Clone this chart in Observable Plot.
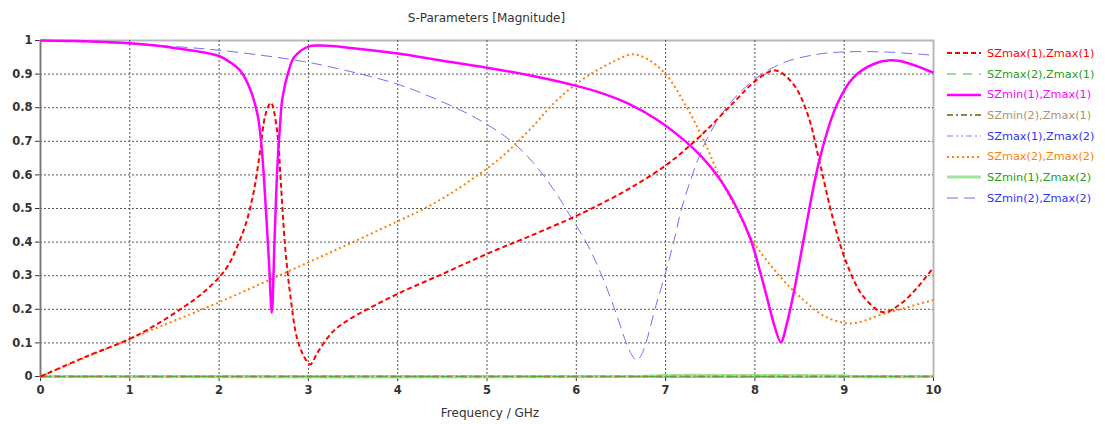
<!DOCTYPE html>
<html>
<head>
<meta charset="utf-8">
<script src="https://cdn.jsdelivr.net/npm/d3@7"></script>
<script src="https://cdn.jsdelivr.net/npm/@observablehq/plot@0.6"></script>
<style>
  html, body { margin: 0; padding: 0; background: #fff; }
  #wrap { position: relative; width: 1105px; height: 424px; font-family: "DejaVu Sans", sans-serif; }
  #title { position: absolute; left: 0; top: 0; width: 973px; height: 30px; line-height: 36px; text-align: center; font-size: 12px; color: #333; }
  #chart { position: absolute; left: 0; top: 30px; }
  #xlabel { position: absolute; left: 0; top: 400px; width: 980px; height: 26px; line-height: 26px; text-align: center; font-size: 12px; color: #333; }
  #legend { position: absolute; left: 946px; top: 43px; }
  .row { display: flex; align-items: center; height: 20.7px; }
  .row svg { margin-right: 5px; }
  .row span { font-size: 11.3px; white-space: nowrap; }
</style>
</head>
<body>
<div id="wrap">
  <div id="title">S-Parameters [Magnitude]</div>
  <div id="chart"></div>
  <div id="xlabel">Frequency / GHz</div>
  <div id="legend"></div>
</div>
<script>
// ---------- data ----------
const seriesNames = [
  "SZmax(1),Zmax(1)", "SZmax(2),Zmax(1)", "SZmin(1),Zmax(1)", "SZmin(2),Zmax(1)",
  "SZmax(1),Zmax(2)", "SZmax(2),Zmax(2)", "SZmin(1),Zmax(2)", "SZmin(2),Zmax(2)"
];

const xTicks = [0, 1, 2, 3, 4, 5, 6, 7, 8, 9, 10];
const xTickLabels = ["0", "1", "2", "3", "4", "5", "6", "7", "8", "9", "10"];
const yTicks = [0, 0.1, 0.2, 0.3, 0.4, 0.5, 0.6, 0.7, 0.8, 0.9, 1];
const yTickLabels = ["0", "0.1", "0.2", "0.3", "0.4", "0.5", "0.6", "0.7", "0.8", "0.9", "1"];

// SZmax(1),Zmax(1)
const f1 = [0, 0.5, 1, 1.3, 1.6, 1.8, 2, 2.1, 2.2, 2.3, 2.39, 2.46, 2.52, 2.58, 2.65, 2.69, 2.74, 2.8, 2.87, 2.95, 3.02, 3.1, 3.2, 3.3, 3.4, 3.5, 3.66, 4, 4.5, 5, 5.5, 6, 6.27, 6.6, 7.02, 7.39, 7.76, 8.03, 8.23, 8.43, 8.59, 8.73, 8.88, 9.03, 9.22, 9.44, 9.63, 9.82, 10];
const v1 = [0, 0.058, 0.112, 0.155, 0.206, 0.245, 0.295, 0.33, 0.385, 0.455, 0.553, 0.672, 0.78, 0.815, 0.731, 0.582, 0.384, 0.236, 0.117, 0.06, 0.036, 0.07, 0.11, 0.14, 0.16, 0.177, 0.2, 0.246, 0.305, 0.365, 0.42, 0.478, 0.513, 0.56, 0.632, 0.716, 0.815, 0.885, 0.911, 0.87, 0.781, 0.632, 0.464, 0.335, 0.236, 0.191, 0.216, 0.265, 0.325];

// SZmax(2),Zmax(1)
const f2 = [0, 5, 10];
const v2 = [0, 0, 0];

// SZmin(1),Zmax(1)
const f3 = [0, 0.5, 1, 1.5, 2, 2.13, 2.24, 2.34, 2.43, 2.47, 2.5, 2.53, 2.56, 2.59, 2.62, 2.65, 2.68, 2.71, 2.78, 2.84, 3.0, 3.15, 3.5, 4, 4.5, 5, 5.5, 6, 6.3, 6.6, 6.9, 7.2, 7.4, 7.6, 7.8, 7.95, 8.05, 8.15, 8.22, 8.29, 8.36, 8.45, 8.55, 8.73, 8.92, 9.1, 9.33, 9.52, 9.7, 10];
const v3 = [1.0, 0.998, 0.992, 0.978, 0.954, 0.934, 0.909, 0.86, 0.78, 0.7, 0.6, 0.47, 0.335, 0.19, 0.4, 0.61, 0.74, 0.83, 0.91, 0.95, 0.982, 0.985, 0.977, 0.961, 0.94, 0.919, 0.895, 0.865, 0.842, 0.81, 0.765, 0.705, 0.655, 0.59, 0.5, 0.41, 0.32, 0.22, 0.15, 0.102, 0.16, 0.27, 0.414, 0.652, 0.81, 0.889, 0.93, 0.941, 0.934, 0.904];

// SZmin(2),Zmax(1)
const f4 = [0, 5, 10];
const v4 = [0, 0, 0];

// SZmax(1),Zmax(2)
const f5 = [0, 5, 10];
const v5 = [0, 0, 0];

// SZmax(2),Zmax(2)
const f6 = [0, 1, 2, 3, 3.5, 4, 4.3, 4.6, 4.9, 5.15, 5.35, 5.55, 5.7, 5.9, 6.16, 6.4, 6.63, 6.8, 7, 7.24, 7.43, 7.61, 7.8, 8, 8.29, 8.51, 8.77, 9.07, 9.44, 10];
const v6 = [0, 0.112, 0.221, 0.34, 0.4, 0.462, 0.5, 0.546, 0.6, 0.65, 0.7, 0.755, 0.8, 0.85, 0.9, 0.935, 0.959, 0.944, 0.9, 0.8, 0.701, 0.592, 0.493, 0.394, 0.295, 0.236, 0.181, 0.158, 0.186, 0.228];

// SZmin(1),Zmax(2)
const f7 = [0, 6.7, 7, 8, 9, 9.1, 10];
const v7 = [0, 0, 0.003, 0.003, 0.002, 0, 0];

// SZmin(2),Zmax(2)
const f8 = [0, 1, 2, 2.91, 3.25, 4, 4.52, 4.8, 5, 5.2, 5.4, 5.6, 5.8, 5.95, 6.11, 6.27, 6.43, 6.56, 6.62, 6.67, 6.72, 6.78, 6.88, 6.99, 7.09, 7.18, 7.3, 7.45, 7.68, 8, 8.32, 8.7, 9, 9.44, 10];
const v8 = [1.0, 0.99, 0.971, 0.939, 0.921, 0.87, 0.815, 0.78, 0.75, 0.715, 0.67, 0.61, 0.535, 0.47, 0.4, 0.31, 0.2, 0.1, 0.065, 0.048, 0.06, 0.1, 0.2, 0.3, 0.4, 0.5, 0.6, 0.7, 0.8, 0.885, 0.934, 0.959, 0.966, 0.966, 0.956];

const freqs = [f1, f2, f3, f4, f5, f6, f7, f8];
const values = [v1, v2, v3, v4, v5, v6, v7, v8];

// ---------- styles ----------
const styles = [
  {stroke: "#ff0000", width: 2,   dash: "5,3",          text: "#ff0000"},
  {stroke: "#30c030", width: 1,   dash: "9,7",          text: "#20a020"},
  {stroke: "#ff00ff", width: 2.5, dash: null,           text: "#ff00ff"},
  {stroke: "#8c8a3c", width: 2,   dash: "6,3,2,3",      text: "#b09070"},
  {stroke: "#a8a8ff", width: 1.5, dash: "6,3,2,3,2,3",  text: "#3030ff"},
  {stroke: "#ff8000", width: 2,   dash: "2,3",          text: "#ff8000"},
  {stroke: "#a0e4a0", width: 3,   dash: null,           text: "#20a020"},
  {stroke: "#7070ff", width: 1,   dash: "11,6",         text: "#3030ff"}
];

const tables = freqs.map((fs, i) => fs.map((f, j) => ({f, v: values[i][j]})));

// draw order: near-zero lines first, then the main curves
const drawOrder = [4, 6, 1, 3, 7, 5, 0, 2];

const lineMarks = drawOrder.map(i => Plot.line(tables[i], {
  x: "f", y: "v", curve: "catmull-rom",
  stroke: styles[i].stroke, strokeWidth: styles[i].width,
  strokeDasharray: styles[i].dash == null ? undefined : styles[i].dash,
  strokeLinecap: "butt"
}));

const chart = Plot.plot({
  width: 960,
  height: 370,
  marginTop: 10,
  marginBottom: 24,
  marginLeft: 40,
  marginRight: 27,
  style: {fontFamily: "DejaVu Sans, sans-serif", fontSize: "11.5px", fontWeight: "bold", color: "#333", background: "transparent"},
  x: {domain: [0, 10], ticks: xTicks, tickSize: 5, tickPadding: 4, label: null,
      tickFormat: d => xTickLabels[xTicks.indexOf(d)]},
  y: {domain: [0, 1], ticks: yTicks, tickSize: 5, tickPadding: 3, label: null,
      tickFormat: d => yTickLabels[yTicks.findIndex(t => Math.abs(t - d) < 1e-9)]},
  marks: [
    Plot.frame({stroke: "#b8b8b8", strokeWidth: 2}),
    Plot.ruleX(xTicks.slice(1, -1), {stroke: "#555", strokeWidth: 1, strokeDasharray: "2,2"}),
    Plot.ruleY(yTicks.slice(1, -1), {stroke: "#555", strokeWidth: 1, strokeDasharray: "2,2"}),
    Plot.ruleX([0], {stroke: "#777", strokeWidth: 1.5}),
    Plot.ruleY([0], {stroke: "#777", strokeWidth: 1.5}),
    ...lineMarks
  ]
});
document.getElementById("chart").appendChild(chart);

// ---------- legend ----------
const legend = document.getElementById("legend");
seriesNames.forEach((name, i) => {
  const s = styles[i];
  const row = document.createElement("div");
  row.className = "row";
  row.innerHTML =
    `<svg width="36" height="8"><line x1="1" y1="4" x2="35" y2="4" stroke="${s.stroke}" stroke-width="${s.width}"` +
    (s.dash ? ` stroke-dasharray="${s.dash}"` : "") + `/></svg><span style="color:${s.text}">${name}</span>`;
  legend.appendChild(row);
});
</script>
</body>
</html>
